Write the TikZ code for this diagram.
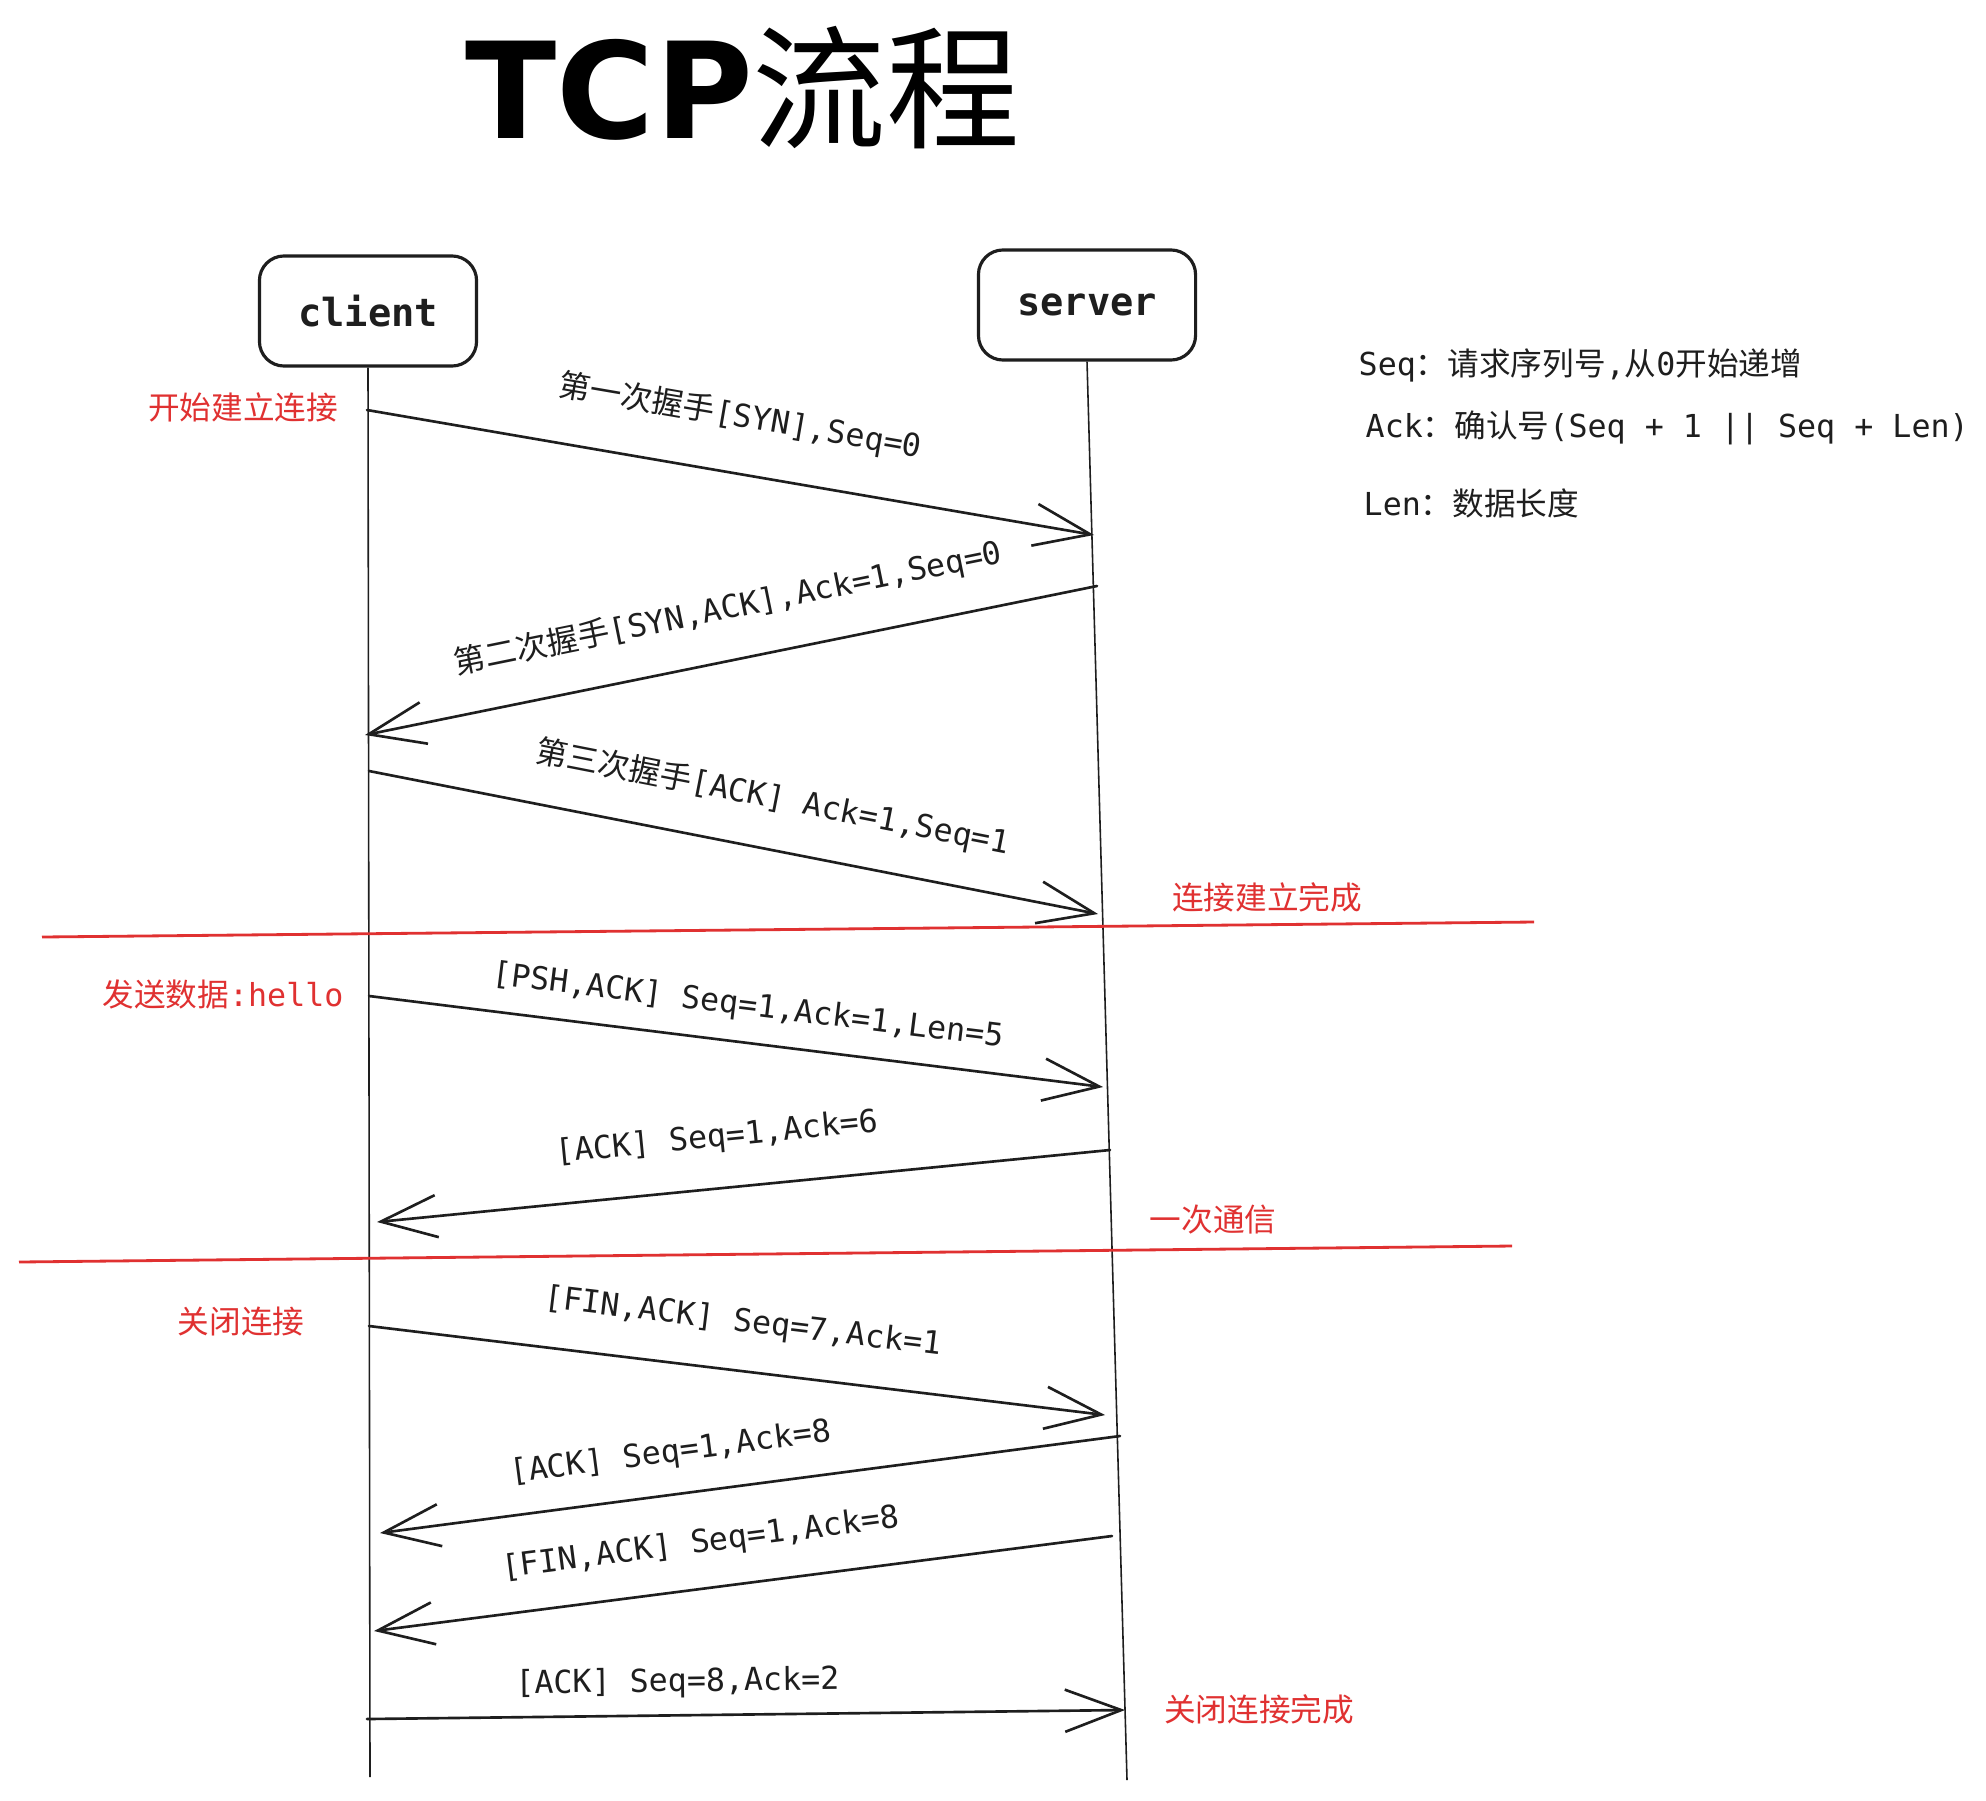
\documentclass[tikz,border=0pt]{standalone}
\usepackage{fontspec}
\setmainfont{DejaVu Sans Mono}
\newfontfamily\cjk{Noto Sans CJK SC}
\newfontfamily\titlefont{DejaVu Sans}
\usepackage{tikz}
\usetikzlibrary{arrows.meta,positioning}
\definecolor{ink}{HTML}{1E1E1E}
\definecolor{mark}{HTML}{E03131}

\begin{document}
\begin{tikzpicture}
[x=0.01cm,y=-0.01cm,
 actor/.style={draw=ink,line width=0.9pt,rounded corners=7pt,minimum width=2.17cm,
   minimum height=1.1cm,font=\fontsize{11}{13}\selectfont\bfseries,text=ink},
 life/.style={draw=ink,line width=0.45pt},
 msg/.style={draw=ink,line width=0.75pt,line cap=round,-{Straight Barb[length=16pt,width=12pt]}},
 lbl/.style={font=\fontsize{9}{11}\selectfont,text=ink,sloped,inner sep=0pt},
 note/.style={font=\fontsize{9}{11}\selectfont,text=mark,inner sep=0pt},
 legend/.style={font=\fontsize{9}{11}\selectfont,text=ink,inner sep=0pt,anchor=west},
 sep/.style={draw=mark,line width=0.8pt}]
\fill[white] (0,0) rectangle (1986,1800);
\useasboundingbox (0,0) rectangle (1986,1800);

\node (title) at (743,88) {{\titlefont\fontsize{38}{42}\selectfont\bfseries TCP}{\cjk\fontsize{38}{42}\selectfont 流程}};

\node[actor] (client) at (368,311) {client};
\node[actor] (server) at (1087,305) {server};
\coordinate (cb) at (370,1777);
\coordinate (sb) at (1127,1780);

\node[legend] (seq) at (1358,365) {Seq{\cjk ：请求序列号},{\cjk 从}0{\cjk 开始递增}};
\node[legend] (ack) at (1365,428) {Ack{\cjk ：确认号}(Seq + 1 || Seq + Len)};
\node[legend] (len) at (1363,503) {Len{\cjk ：数据长度}};

\node[note] (start) at (243,407) {\cjk 开始建立连接};
\node[note] (send) at (223,994) {{\cjk 发送数据}:hello};
\node[note] (close) at (241,1321) {\cjk 关闭连接};
\node[note] (done) at (1267,897) {\cjk 连接建立完成};
\node[note] (once) at (1213,1220) {\cjk 一次通信};
\node[note] (closed) at (1259,1709) {\cjk 关闭连接完成};

\coordinate (c1) at (367,410);  \coordinate (s1) at (1094,535);
\coordinate (s2) at (1097,586); \coordinate (c2) at (365,735);
\coordinate (c3) at (369,771);  \coordinate (s3) at (1098,914);
\coordinate (c4) at (369,996);  \coordinate (s4) at (1103,1087);
\coordinate (s5) at (1110,1150); \coordinate (c5) at (377,1222);
\coordinate (c6) at (369,1326); \coordinate (s6) at (1105,1415);
\coordinate (s7) at (1120,1436); \coordinate (c7) at (380,1533);
\coordinate (s8) at (1112,1536); \coordinate (c8) at (374,1631);
\coordinate (c9) at (367,1719); \coordinate (s9) at (1125,1710);

\coordinate (l1a) at (42,937);  \coordinate (l1b) at (1534,922);
\coordinate (l2a) at (19,1262); \coordinate (l2b) at (1512,1246);

\draw [life] (client.south) -- (cb);
\draw [life] (server.south) -- (sb);
\draw [sep] (l1a) -- (l1b);
\draw [sep] (l2a) -- (l2b);

\draw [msg] (c1) -- (s1) node[lbl,pos=0.5,above=11pt] {{\cjk 第一次握手}[SYN],Seq=0};
\draw [msg] (s2) -- (c2) node[lbl,pos=0.49,above=9.5pt] {{\cjk 第二次握手}[SYN,ACK],Ack=1,Seq=0};
\draw [msg] (c3) -- (s3) node[lbl,pos=0.54,above=9.5pt] {{\cjk 第三次握手}[ACK] Ack=1,Seq=1};
\draw [msg] (c4) -- (s4) node[lbl,pos=0.51,above=5.5pt] {[PSH,ACK] Seq=1,Ack=1,Len=5};
\draw [msg] (s5) -- (c5) node[lbl,pos=0.53,above=9.5pt] {[ACK] Seq=1,Ack=6};
\draw [msg] (c6) -- (s6) node[lbl,pos=0.5,above=9pt] {[FIN,ACK] Seq=7,Ack=1};
\draw [msg] (s7) -- (c7) node[lbl,pos=0.6,above=7pt] {[ACK] Seq=1,Ack=8};
\draw [msg] (s8) -- (c8) node[lbl,pos=0.55,above=8pt] {[FIN,ACK] Seq=1,Ack=8};
\draw [msg] (c9) -- (s9) node[lbl,pos=0.41,above=4.5pt] {[ACK] Seq=8,Ack=2};
\end{tikzpicture}
\end{document}
